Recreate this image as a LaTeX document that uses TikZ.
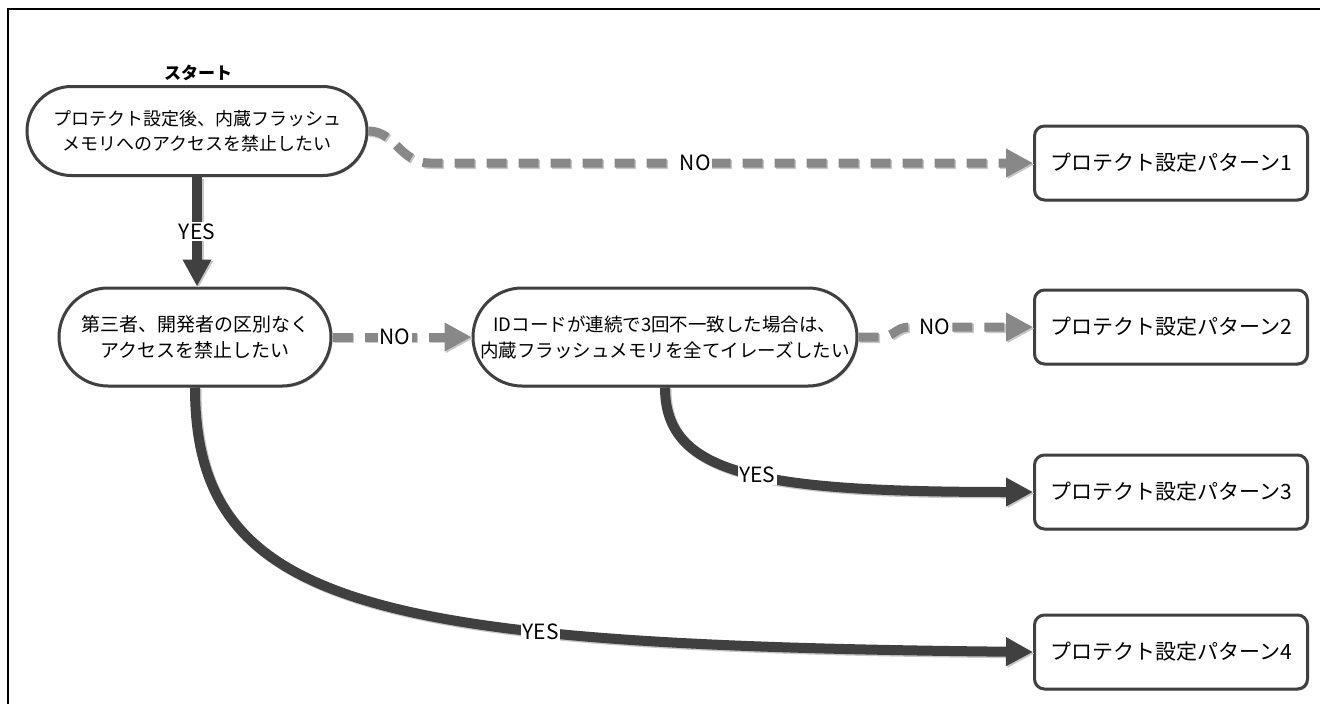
\documentclass[tikz,border=0pt]{standalone}
\usepackage{fontspec}
\setmainfont{Noto Sans CJK JP}
\usetikzlibrary{arrows.meta,shadows,shapes.misc}
\definecolor{dk}{HTML}{404040}
\definecolor{gy}{HTML}{888888}
\definecolor{sh}{HTML}{C8C8C8}
\begin{document}
\begin{tikzpicture}[x=1pt,y=-1pt,
  stad/.style={rounded rectangle, draw=dk, line width=3pt, fill=white, inner sep=0pt,
    align=center, font=\fontsize{19}{26}\selectfont,
    drop shadow={shadow xshift=1.5pt, shadow yshift=-1.5pt, fill=sh, opacity=1}},
  pbox/.style={draw=dk, line width=3pt, fill=white, rounded corners=10pt,
    minimum width=273pt, minimum height=74pt, inner sep=0pt,
    font=\fontsize{21}{26}\selectfont,
    drop shadow={shadow xshift=1.5pt, shadow yshift=-1.5pt, fill=sh, opacity=1}},
  tipshape/.style={-{Triangle[length=27pt,width=27pt]}},
  yesline/.style={draw=dk, line width=10pt, tipshape},
  noline/.style={draw=gy, line width=9pt, dash pattern=on 20pt off 12pt, tipshape},
  shadowed/.style={draw=sh, transform canvas={shift={(1.5pt,-1.5pt)}}},
  lbl/.style={fill=white, inner sep=1.5pt, text=black, font=\fontsize{21}{24}\selectfont}
]
\useasboundingbox (0,0) rectangle (1320,704);
\fill[white] (0,0) rectangle (1320,704);
\draw[line width=2.2pt] (8,706) -- (8,9) -- (1322,9);

% nodes
\node[font=\bfseries\fontsize{17}{20}\selectfont] (S) at (198,73) {スタート};
\node[stad, minimum width=340pt, minimum height=89pt, font=\fontsize{18}{25}\selectfont] (A) at (197,131)
  {プロテクト設定後、内蔵フラッシュ\\メモリへのアクセスを禁止したい};
\node[stad, minimum width=272pt, minimum height=98pt] (B) at (195,337)
  {第三者、開発者の区別なく\\アクセスを禁止したい};
\node[stad, minimum width=384pt, minimum height=98pt, font=\fontsize{18.5}{26}\selectfont] (C) at (665,337)
  {IDコードが連続で3回不一致した場合は、\\内蔵フラッシュメモリを全てイレーズしたい};
\node[pbox] (P1) at (1171,163) {プロテクト設定パターン1};
\node[pbox] (P2) at (1171,327) {プロテクト設定パターン2};
\node[pbox] (P3) at (1171,492) {プロテクト設定パターン3};
\node[pbox] (P4) at (1171,652) {プロテクト設定パターン4};

% shadows of connectors
\draw[noline, shadowed] (A.east) .. controls (395,131) and (400,163) .. (430,163) -- (P1.west);
\draw[yesline, shadowed] (A.south) -- (A.south |- B.north);
\draw[noline, shadowed] (B.east) -- (C.west);
\draw[noline, shadowed] (C.east) -- (880,337) .. controls (895,337) and (895,327) .. (910,327) -- (P2.west);
\draw[yesline, shadowed] (C.south) .. controls (665,475) and (760,492) .. (P3.west);
\draw[yesline, shadowed] (B.south) .. controls (195,610) and (380,645) .. (P4.west);

% connectors
\draw[noline] (A.east) .. controls (395,131) and (400,163) .. (430,163) -- (P1.west)
  node[lbl, pos=0.44] (l1) {NO};
\draw[yesline] (A.south) -- (A.south |- B.north)
  node[lbl, pos=0.5] (l2) {YES};
\draw[noline] (B.east) -- (C.west)
  node[lbl, pos=0.45] (l3) {NO};
\draw[noline] (C.east) -- (880,337) .. controls (895,337) and (895,327) .. (910,327) -- (P2.west)
  node[lbl, pos=0.2] (l4) {NO};
\draw[yesline] (C.south) .. controls (665,475) and (760,492) .. (P3.west)
  node[lbl, pos=0.53] (l5) {YES};
\draw[yesline] (B.south) .. controls (195,610) and (380,645) .. (P4.west)
  node[lbl, pos=0.68] (l6) {YES};
\end{tikzpicture}
\end{document}
